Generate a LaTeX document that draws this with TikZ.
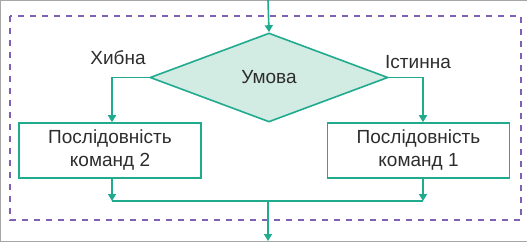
\documentclass[tikz,border=0pt]{standalone}
\usepackage{fontspec}
\setmainfont{Liberation Sans}
\usetikzlibrary{positioning, arrows.meta, shapes.geometric}
\definecolor{flowteal}{RGB}{32, 170, 142}
\definecolor{condfill}{RGB}{210, 235, 227}
\definecolor{framepurple}{RGB}{128, 96, 180}
\definecolor{textgray}{RGB}{45, 45, 45}
\begin{document}
\begin{tikzpicture}[x=1pt, y=-1pt, >={Triangle[length=7pt, width=8pt]},
    font=\fontsize{19}{23}\selectfont, text=textgray,
    flow/.style={->, flowteal, line width=1.6pt},
    cond/.style={diamond, draw=flowteal, fill=condfill, line width=1.6pt,
      minimum width=238pt, minimum height=89pt, inner sep=0pt},
    block/.style={rectangle, draw=flowteal, line width=1.6pt, fill=white,
      minimum width=182pt, minimum height=55pt, align=center, inner sep=2pt}]
  \useasboundingbox (0,0) rectangle (527,242);
  % outer frame and dashed border of the branch
  \draw[gray!70, line width=1pt] (527,0.5) -- (0.5,0.5) -- (0.5,241) -- (527,241);
  \draw[framepurple, line width=1.5pt, dash pattern=on 6pt off 6pt]
    (10,16) rectangle (521,220);
  % Nodes
  \coordinate (top) at (268, 0);
  \node[cond] (cond) at (269, 77.5) {Умова};
  \node[block] (seq2) at (110, 150.5) {Послідовність\\команд 2};
  \node[block] (seq1) at (418.5, 150.5) {Послідовність\\команд 1};
  \coordinate (joinL) at (112, 201);
  \coordinate (joinR) at (423, 201);
  \coordinate (join) at (268, 201);
  \coordinate (bottom) at (268, 241);
  \node (no)  at (118, 58) {Хибна};
  \node (yes) at (418, 62) {Істинна};
  % Connectors
  \draw[flow] (top) -- (cond.north);
  \draw[flow] (cond.west) -| (seq2.north -| joinL);
  \draw[flow] (cond.east) -| (seq1.north -| joinR);
  \draw[flow] (seq2.south -| joinL) -- (joinL);
  \draw[flow] (seq1.south -| joinR) -- (joinR);
  \draw[flowteal, line width=1.6pt] (joinL) -- (joinR);
  \draw[flow] (join) -- (bottom);
\end{tikzpicture}
\end{document}
